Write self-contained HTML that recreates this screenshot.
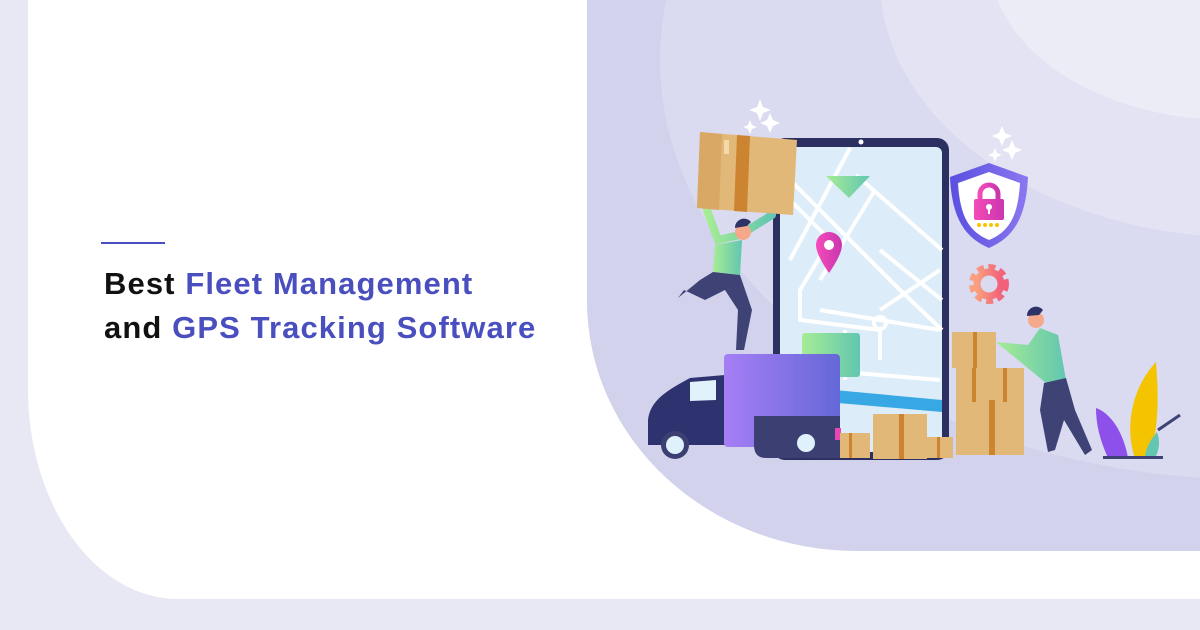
<!DOCTYPE html>
<html><head><meta charset="utf-8"><style>
html,body{margin:0;padding:0}
body{width:1200px;height:630px;background:#e8e8f4;position:relative;overflow:hidden;font-family:"Liberation Sans",sans-serif}
.card{position:absolute;left:28px;top:0;width:1172px;height:599px;background:#fff;border-bottom-left-radius:150px 210px}
.line{position:absolute;left:101px;top:242px;width:64px;height:2px;background:#4a4fbf}
.t{position:absolute;left:104px;font-size:31px;font-weight:bold;letter-spacing:1.1px;color:#111;white-space:nowrap}
.t span{color:#4a4fbf}
svg{position:absolute;left:0;top:0}
</style></head><body>
<div class="card"></div>
<svg width="1200" height="630" viewBox="0 0 1200 630">
<defs>
<clipPath id="pc"><path d="M587 0H1200V551H857A270 250 0 0 1 587 301Z"/></clipPath>
<linearGradient id="tb" x1="0" x2="1"><stop offset="0" stop-color="#a67ef5"/><stop offset="1" stop-color="#6568d8"/></linearGradient>
<linearGradient id="gr" x1="0" x2="1"><stop offset="0" stop-color="#a6ec94"/><stop offset="1" stop-color="#62c6b0"/></linearGradient>
<linearGradient id="pk" x1="0" x2="1"><stop offset="0" stop-color="#f54bb8"/><stop offset="1" stop-color="#c936b0"/></linearGradient>
<linearGradient id="sh" x1="0" x2="1"><stop offset="0" stop-color="#5a4fe0"/><stop offset="1" stop-color="#8a78f0"/></linearGradient>
<linearGradient id="gear" x1="0" x2="1"><stop offset="0" stop-color="#f9a07e"/><stop offset="1" stop-color="#f2607a"/></linearGradient>
</defs>
<g clip-path="url(#pc)">
<rect x="587" y="0" width="613" height="551" fill="#d2d2ec"/>
<ellipse cx="1260" cy="60" rx="600" ry="420" fill="#dadaf0"/>
<ellipse cx="1250" cy="-20" rx="370" ry="258" fill="#e3e3f4"/>
<ellipse cx="1230" cy="-40" rx="240" ry="160" fill="#ececf7"/>
</g>
<rect x="773" y="138" width="176" height="322" rx="12" fill="#2b3060"/>
<rect x="780" y="147" width="162" height="305" rx="6" fill="#dcedf9"/>
<circle cx="861" cy="142" r="2.5" fill="#fff"/>
<g stroke="#fff" stroke-width="4" fill="none">
<path d="M780 170L900 290L942 330"/><path d="M850 148L790 260"/><path d="M790 200L830 240L800 290L800 320L880 330"/>
<path d="M856 175L942 250"/><path d="M875 190L820 280"/><path d="M880 250L942 300"/><path d="M880 310L940 270"/>
<path d="M820 310L880 320L940 330"/><path d="M880 330L880 360"/><path d="M820 370L940 380"/><path d="M845 330L845 380"/>
</g>
<circle cx="880" cy="323" r="6" fill="none" stroke="#fff" stroke-width="4"/>
<path d="M780 385L942 400L942 412L780 398Z" fill="#38a8e4"/>
<rect x="802" y="333" width="58" height="44" rx="3" fill="url(#gr)"/>
<path d="M826 176H870L849 198Z" fill="url(#gr)"/>
<path d="M829 232a13 13 0 0 1 13 13c0 10-13 28-13 28s-13-18-13-28a13 13 0 0 1 13-13z" fill="url(#pk)"/>
<circle cx="829" cy="245" r="5" fill="#fff"/>
<g fill="#fff"><path d="M760 99l3 8 8 3-8 3-3 8-3-8-8-3 8-3z"/><path d="M770 113l3 7 7 3-7 3-3 7-3-7-7-3 7-3z"/><path d="M750 120l2 5 5 2-5 2-2 5-2-5-5-2 5-2z"/>
<path d="M1002 126l3 7 7 3-7 3-3 7-3-7-7-3 7-3z"/><path d="M1012 140l3 7 7 3-7 3-3 7-3-7-7-3 7-3z"/><path d="M995 148l2 5 5 2-5 2-2 5-2-5-5-2 5-2z"/></g>
<path d="M989 163L1028 177C1026 220 1012 238 989 248C966 238 952 220 950 177Z" fill="url(#sh)"/>
<path d="M989 172L1020 183C1018 218 1008 232 989 240C970 232 960 218 958 183Z" fill="#fff"/>
<path d="M980 200v-6a9 9 0 0 1 18 0v6" fill="none" stroke="url(#pk)" stroke-width="5"/>
<rect x="974" y="199" width="30" height="21" rx="2" fill="url(#pk)"/>
<circle cx="989" cy="207" r="3" fill="#fff"/><rect x="988" y="207" width="2" height="7" fill="#fff"/>
<g fill="#f8c400"><circle cx="979" cy="225" r="2"/><circle cx="985" cy="225" r="2"/><circle cx="991" cy="225" r="2"/><circle cx="997" cy="225" r="2"/></g>
<circle cx="989" cy="284" r="15" fill="none" stroke="url(#gear)" stroke-width="10" stroke-dasharray="6 4"/>
<circle cx="989" cy="284" r="12" fill="none" stroke="url(#gear)" stroke-width="7"/>
<path d="M707 210L718 240L740 235L772 215" stroke="url(#gr)" stroke-width="8" fill="none" stroke-linecap="round"/>
<path d="M715 245L742 240L740 275L713 272Z" fill="url(#gr)"/>
<circle cx="743" cy="232" r="8" fill="#f5a98a"/><path d="M735 228a9 9 0 0 1 16-6l-4 4z" fill="#2d3366"/>
<path d="M713 272L740 275L752 310L744 350L736 350L738 310L725 290L705 300L684 290L678 298L700 280Z" fill="#3e4275"/>
<path d="M700 132L797 140L793 215L697 208Z" fill="#e2b878"/>
<path d="M737 135L750 136L747 212L734 211Z" fill="#cc8430"/>
<path d="M700 132L722 134L719 210L697 208Z" fill="#d9a865"/>
<rect x="724" y="140" width="5" height="14" fill="#f6d9a8"/>
<path d="M648 445V420C650 400 668 390 690 378L725 375V445Z" fill="#2e3370"/>
<path d="M690 382L716 380V400L690 401Z" fill="#e2f2fb"/>
<rect x="724" y="354" width="116" height="93" rx="4" fill="url(#tb)"/>
<path d="M754 416H840V458H766Q754 458 754 445Z" fill="#3b3f72"/>
<circle cx="675" cy="445" r="14" fill="#3b3f72"/><circle cx="675" cy="445" r="9" fill="#dff1fa"/>
<circle cx="806" cy="443" r="15" fill="#3b3f72"/><circle cx="806" cy="443" r="9" fill="#dff1fa"/>
<rect x="835" y="428" width="6" height="12" fill="#e846b4"/>
<g fill="#e2b878">
<rect x="840" y="433" width="30" height="25"/><rect x="873" y="414" width="54" height="45"/><rect x="927" y="437" width="26" height="21"/>
<rect x="952" y="332" width="44" height="36"/><rect x="956" y="368" width="68" height="34"/><rect x="956" y="400" width="68" height="55"/>
</g>
<g fill="#cc8430">
<rect x="849" y="433" width="3" height="25"/><rect x="899" y="414" width="5" height="45"/><rect x="937" y="437" width="3" height="21"/>
<rect x="973" y="332" width="4" height="36"/><rect x="972" y="368" width="4" height="34"/><rect x="1003" y="368" width="4" height="34"/><rect x="989" y="400" width="6" height="55"/>
</g>
<path d="M996 342L1028 345L1040 328L1058 335L1066 380L1046 383Z" fill="url(#gr)"/>
<circle cx="1036" cy="320" r="8" fill="#f5a98a"/><path d="M1027 316a9 9 0 0 1 16-6l-4 5z" fill="#2d3366"/>
<path d="M1044 383L1066 378L1075 410L1092 450L1085 455L1064 420L1055 450L1048 452L1040 410Z" fill="#3e4275"/>
<path d="M1156 362C1130 390 1125 430 1135 458H1150C1160 420 1158 390 1156 362Z" fill="#f5c400"/>
<path d="M1096 408C1115 415 1125 440 1128 458H1108C1100 440 1096 425 1096 408Z" fill="#8d50ea"/>
<path d="M1157 432C1150 440 1145 450 1145 458H1155C1160 448 1160 440 1157 432Z" fill="#62c6b0"/>
<path d="M1158 430L1180 415" stroke="#3e4275" stroke-width="3"/>
<rect x="1103" y="456" width="60" height="3" fill="#3e4275"/>
</svg>
<div class="line"></div>
<div class="t" style="top:266px">Best <span>Fleet Management</span></div>
<div class="t" style="top:310px">and <span>GPS Tracking Software</span></div>
</body></html>
